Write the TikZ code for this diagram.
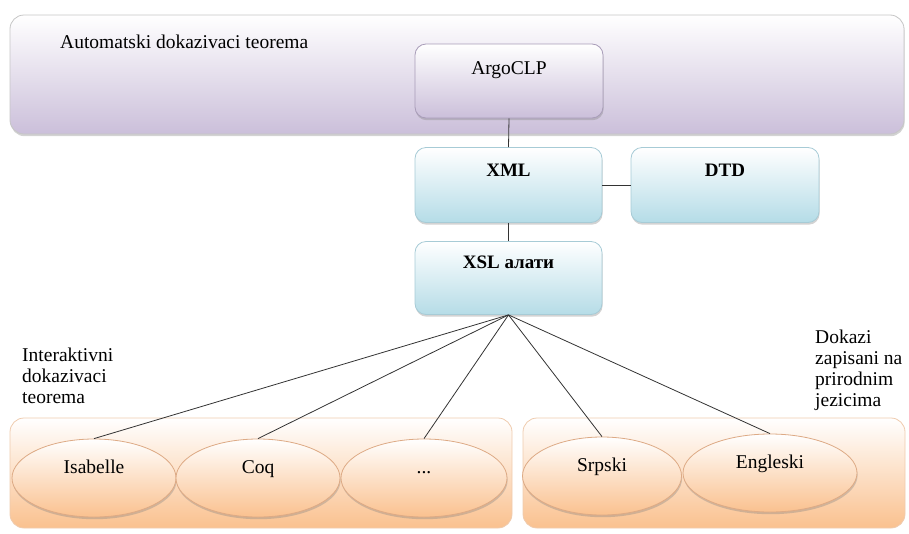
\documentclass[tikz,border=0pt]{standalone}
\usepackage{fontspec}
\setmainfont{Liberation Serif}
\usetikzlibrary{shapes.geometric,shadows}
\definecolor{lav}{HTML}{CBBFDA}
\definecolor{lavline}{HTML}{A89CB8}
\definecolor{aqua}{HTML}{B5DCE7}
\definecolor{aqualine}{HTML}{A7CBD6}
\definecolor{peach}{HTML}{FAC18F}
\definecolor{peachline}{HTML}{EFCBAE}
\definecolor{ellline}{HTML}{DDAA85}
\definecolor{connc}{HTML}{333333}
\tikzset{
  base/.style={inner sep=0pt, font=\fontsize{19.5}{21}\selectfont},
  shade/.style={drop shadow={opacity=0.35, shadow xshift=0.6pt, shadow yshift=-2.2pt}},
  band/.style={base, rectangle, rounded corners=14pt, draw=gray!45, line width=0.8pt,
    shading=axis, top color=white, bottom color=lav, shade},
  purplebox/.style={base, rectangle, rounded corners=11pt, draw=lavline, line width=0.8pt,
    shading=axis, top color=white, bottom color=lav, shade},
  bluebox/.style={base, rectangle, rounded corners=11pt, draw=aqualine, line width=0.8pt,
    shading=axis, top color=white, bottom color=aqua, shade, font=\fontsize{19}{21}\selectfont\bfseries},
  holder/.style={base, rectangle, rounded corners=14pt, draw=peachline, line width=0.8pt,
    shading=axis, top color=white, bottom color=peach},
  ell/.style={base, ellipse, draw=ellline, line width=0.8pt, shading=axis, top color=white,
    bottom color=peach, minimum height=78pt, text height=13pt, text depth=23pt, shade},
  lbl/.style={base, align=left, text=black},
  conn/.style={draw=connc, line width=0.8pt}
}
\begin{document}
\begin{tikzpicture}[x=1pt,y=-1pt]
\useasboundingbox (0,0) rectangle (909,533);
% containers
\node[band, minimum width=894pt, minimum height=119pt] (auto) at (457,74.5) {};
\node[holder, minimum width=502pt, minimum height=110pt] (inter) at (261,473) {};
\node[holder, minimum width=382pt, minimum height=110pt] (nat) at (714,473) {};
% labels
\node[lbl, anchor=base west] (autolbl) at (60,48) {Automatski dokazivaci teorema};
\node[lbl, anchor=north west] (interlbl) at (22,348) {Interaktivni\\dokazivaci\\teorema};
\node[lbl, anchor=north west] (natlbl) at (815,329.5) {Dokazi\\zapisani na\\prirodnim\\jezicima};
% boxes
\node[purplebox, minimum width=188pt, minimum height=74pt, text height=13pt, text depth=26pt] (argo) at (509,81) {ArgoCLP};
\node[bluebox, minimum width=187pt, minimum height=75pt, text height=13pt, text depth=31pt] (xml) at (508.5,185) {XML};
\node[bluebox, minimum width=188pt, minimum height=75pt, text height=13pt, text depth=31pt] (dtd) at (725,185) {DTD};
\node[bluebox, minimum width=187pt, minimum height=73pt, text height=13pt, text depth=32pt] (xsl) at (508.5,278) {XSL алати};
% ellipses
\node[ell, minimum width=164pt] (isa) at (94,478) {Isabelle};
\node[ell, minimum width=164pt] (coq) at (258,478) {Coq};
\node[ell, minimum width=166pt] (dots) at (424,478) {...};
\node[ell, minimum width=159pt] (srp) at (602,476) {Srpski};
\node[ell, minimum width=174pt] (eng) at (770,473) {Engleski};
% connectors
\draw[conn] (argo.south) -- (xml.north);
\draw[conn] (xml.east) -- (dtd.west);
\draw[conn] (xml.south) -- (xsl.north);
\draw[conn] (xsl.south) -- (isa.north);
\draw[conn] (xsl.south) -- (coq.north);
\draw[conn] (xsl.south) -- (dots.north);
\draw[conn] (xsl.south) -- (srp.north);
\draw[conn] (xsl.south) -- (eng.north);
\end{tikzpicture}
\end{document}
